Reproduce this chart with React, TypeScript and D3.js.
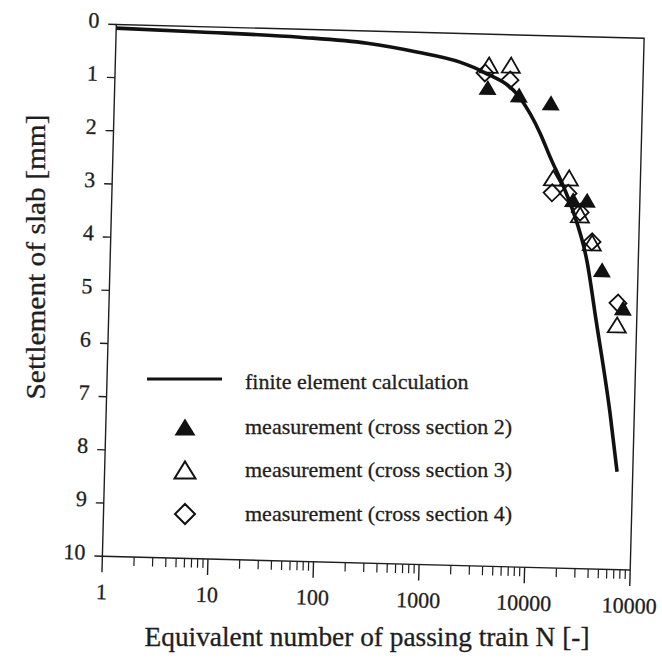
import React from "react";
import * as d3 from "d3";

// finite element curve (N, settlement mm)
const feN = [1, 6.2, 55, 240, 710, 1830, 3040, 6900, 10900, 13800, 19400, 23400, 32700, 41200, 58900, 71000];
const feS = [0.07, 0.1, 0.15, 0.23, 0.37, 0.54, 0.71, 1.18, 1.83, 2.28, 2.89, 3.28, 4.22, 5.32, 7.06, 8.16];

// measurements
const cs2N = [3400, 6760, 13600, 23300, 31600, 45600, 73600];
const cs2S = [1.0, 1.13, 1.26, 3.07, 3.07, 4.37, 5.08];
const cs3N = [3450, 5580, 14900, 21100, 27400, 36100, 65200];
const cs3S = [0.58, 0.57, 2.67, 2.66, 3.35, 3.87, 5.4];
const cs4N = [3180, 5500, 14700, 20800, 27400, 36100, 65800];
const cs4S = [0.73, 0.85, 2.95, 2.95, 3.3, 3.85, 4.99];

const xTicks = [1, 10, 100, 1000, 10000, 100000];
const xTickLabels = ["1", "10", "100", "1000", "10000", "10000"];
const yTicks = [0, 1, 2, 3, 4, 5, 6, 7, 8, 9, 10];

const legendLabels = [
  "finite element calculation",
  "measurement (cross section 2)",
  "measurement (cross section 3)",
  "measurement (cross section 4)",
];

const W = 662;
const H = 666;
// plot frame (before the slight scan tilt)
const left = 109.25;
const right = 637.25;
const top = 31.25;
const bottom = 563.25;
const tilt = 1.5;
const cx = (left + right) / 2;
const cy = (top + bottom) / 2;

const ink = "#1e1e1e";
const serif = { fontFamily: "Liberation Serif, DejaVu Serif, serif" };

const tri = (x: number, y: number, w: number, h: number) =>
  `M${x},${y - h / 2}L${x + w / 2},${y + h / 2}L${x - w / 2},${y + h / 2}Z`;
const dia = (x: number, y: number, r: number) =>
  `M${x},${y - r}L${x + r},${y}L${x},${y + r}L${x - r},${y}Z`;

export default function App() {
  const x = d3.scaleLog().domain([1, 100000]).range([left, right]);
  const y = d3.scaleLinear().domain([0, 10]).range([top, bottom]);

  const minor: number[] = [];
  xTicks.slice(0, -1).forEach((d) => {
    for (let k = 2; k <= 9; k++) minor.push(d * k);
  });

  const line = d3
    .line<number>()
    .x((_, i) => x(feN[i]))
    .y((d) => y(d))
    .curve(d3.curveMonotoneX);

  const legY = [382, 427, 470, 514];

  return (
    <svg
      width={W}
      height={H}
      style={{ position: "absolute", left: 0, top: 0, background: "#fff" }}
    >
      <g transform={`rotate(${tilt},${cx},${cy})`}>
        {/* frame */}
        <rect x={left} y={top} width={right - left} height={bottom - top} fill="none" stroke={ink} strokeWidth={1.4} />

        {/* y ticks + labels */}
        {yTicks.map((t) => (
          <g key={"y" + t}>
            <line x1={left - 8} x2={left} y1={y(t)} y2={y(t)} stroke={ink} strokeWidth={1.4} />
            <text x={left - 17} y={y(t) - 4} dy="0.35em" textAnchor="end" fontSize={22} fill={ink} stroke={ink} strokeWidth={0.3} style={serif}>
              {t}
            </text>
          </g>
        ))}

        {/* x ticks + labels */}
        {xTicks.map((t, i) => (
          <g key={"x" + t}>
            <line x1={x(t)} x2={x(t)} y1={bottom} y2={bottom + 16} stroke={ink} strokeWidth={1.4} />
            <text x={x(t)} y={bottom + 43} textAnchor="middle" fontSize={22} fill={ink} stroke={ink} strokeWidth={0.3} style={serif}>
              {xTickLabels[i]}
            </text>
          </g>
        ))}
        {minor.map((t) => (
          <line key={"m" + t} x1={x(t)} x2={x(t)} y1={bottom} y2={bottom + 9} stroke={ink} strokeWidth={1.2} />
        ))}

        {/* finite element curve */}
        <path d={line(feS) || ""} fill="none" stroke="#111" strokeWidth={3.6} />

        {/* measurements */}
        {cs2N.map((n, i) => (
          <path key={"a" + i} d={tri(x(n), y(cs2S[i]), 18, 15)} fill="#111" />
        ))}
        {cs3N.map((n, i) => (
          <path key={"b" + i} d={tri(x(n), y(cs3S[i]), 18, 15)} fill="none" stroke="#111" strokeWidth={1.8} />
        ))}
        {cs4N.map((n, i) => (
          <path key={"c" + i} d={dia(x(n), y(cs4S[i]), 8.5)} fill="none" stroke="#111" strokeWidth={1.8} />
        ))}
      </g>

      {/* legend */}
      <line x1={147} x2={222} y1={legY[0] - 3} y2={legY[0] - 3} stroke="#111" strokeWidth={3.2} />
      <path d={tri(185, legY[1], 21, 17)} fill="#111" />
      <path d={tri(185, legY[2], 21, 17)} fill="none" stroke="#111" strokeWidth={2} />
      <path d={dia(185, legY[3], 10)} fill="none" stroke="#111" strokeWidth={2} />
      {legendLabels.map((s, i) => (
        <text key={s} x={245} y={legY[i]} dy="0.3em" fontSize={22} fill={ink} stroke={ink} strokeWidth={0.3} style={serif}>
          {s}
        </text>
      ))}

      {/* axis titles */}
      <text
        x={367}
        y={646}
        textAnchor="middle"
        fontSize={27}
        fill={ink}
        stroke={ink}
        strokeWidth={0.3}
        textLength={445}
        lengthAdjust="spacingAndGlyphs"
        style={serif}
      >
        {"Equivalent number of passing train  N  [-]"}
      </text>
      <text
        transform={`translate(45,257) rotate(-90)`}
        textAnchor="middle"
        fontSize={27}
        fill={ink}
        stroke={ink}
        strokeWidth={0.3}
        textLength={285}
        lengthAdjust="spacingAndGlyphs"
        style={serif}
      >
        {"Settlement of slab  [mm]"}
      </text>
    </svg>
  );
}
